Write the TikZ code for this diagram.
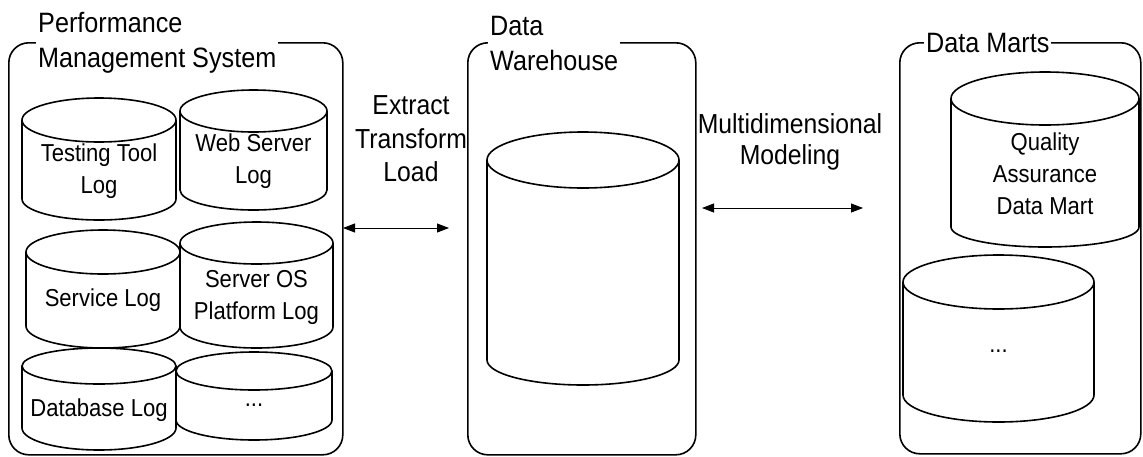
\documentclass[tikz,border=0pt]{standalone}
\usepackage{fontspec}
\setmainfont[FakeStretch=0.9]{Liberation Sans}
\usetikzlibrary{arrows.meta}
\tikzset{
  panel/.style={draw, line width=1.6pt, rounded corners=20pt, inner sep=0pt},
  paneltitle/.style={fill=white, inner sep=2pt, align=left, font=\fontsize{28}{35}\selectfont},
  cylline/.style={line width=1.6pt},
  cyltext/.style={align=center, font=\fontsize{24.5}{32}\selectfont, inner sep=0pt},
  flowlabel/.style={align=center, inner sep=0pt},
  biarrow/.style={line width=0.8pt, {Triangle[length=12pt,width=9pt]}-{Triangle[length=12pt,width=9pt]}},
}
% name, cx, rx, y top, ry top, y bottom, ry bottom, text y, text
\newcommand\dbcyl[9]{%
  \draw[cylline] ({#2-#3},{-#4}) -- ({#2-#3},{-#6}) arc[start angle=180, end angle=360, x radius=#3pt, y radius=#7pt] -- ({#2+#3},{-#4});
  \draw[cylline] (#2,{-#4}) ellipse[x radius=#3pt, y radius=#5pt];
  \node[cyltext] (#1) at (#2,{-#8}) {#9};
}
\begin{document}
\begin{tikzpicture}[x=1pt,y=1pt]
\useasboundingbox (0,0) rectangle (1143,-456);
% panels
\node[panel, minimum width=334pt, minimum height=412pt, anchor=north west] (pms) at (8,-42) {};
\node[panel, minimum width=228pt, minimum height=412pt, anchor=north west] (dw) at (467,-42) {};
\node[panel, minimum width=241pt, minimum height=411pt, anchor=north west] (dm) at (899,-42) {};
% titles
\node[paneltitle, anchor=west] (pmsT) at (36,-43) {Performance\\Management System};
\node[paneltitle, anchor=west] (dwT) at (488,-43) {Data\\Warehouse};
\node[paneltitle, anchor=west] (dmT) at (924,-43) {Data Marts};
% cylinders
\dbcyl{ttl}{99}{77}{120}{22}{199}{21}{171}{Testing Tool\\Log}
\dbcyl{wsl}{253.5}{73.5}{111}{21}{190}{20}{161}{Web Server\\Log}
\dbcyl{svc}{103}{77}{252}{22}{326}{22}{300}{Service Log}
\dbcyl{sos}{256.5}{76.5}{243}{21}{327}{21}{297}{Server OS\\Platform Log}
\dbcyl{dbl}{99}{77}{366}{18}{428}{22}{410}{Database Log}
\dbcyl{etc}{254}{78}{371}{19}{420}{20}{405}{...}
\dbcyl{dwh}{583}{96}{160}{28}{360}{25}{260}{}
\dbcyl{qadm}{1045}{94}{98.5}{26.5}{227}{20}{173.5}{Quality\\Assurance\\Data Mart}
\dbcyl{dmore}{998.5}{95.5}{282}{27}{395}{27}{351}{...}
% labels
\node[flowlabel, font=\fontsize{27.5}{33.5}\selectfont] (etl) at (411,-139) {Extract\\Transform\\Load};
\node[flowlabel, font=\fontsize{27.5}{31}\selectfont] (mdm) at (790,-142) {Multidimensional\\Modeling};
% arrows
\coordinate (etlL) at (343,-228);
\coordinate (etlR) at (449,-228);
\draw[biarrow] (etlL) -- (etlR);
\coordinate (mmL) at (702,-208);
\coordinate (mmR) at (863,-208);
\draw[biarrow] (mmL) -- (mmR);
\end{tikzpicture}
\end{document}
